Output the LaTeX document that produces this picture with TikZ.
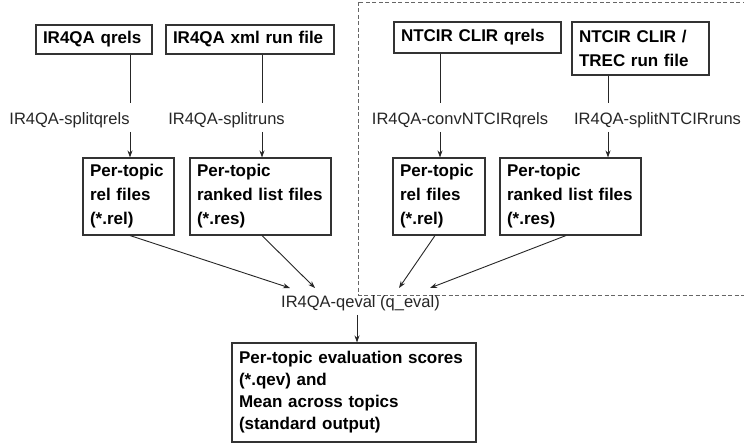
\documentclass[tikz,border=0pt]{standalone}
\usepackage{fontspec}
\setmainfont{Liberation Sans}
\usetikzlibrary{arrows.meta}
\begin{document}
\begin{tikzpicture}[x=1pt,y=-1pt,
  fbox/.style={draw=black!80, line width=1.1pt, font=\fontsize{17}{24}\selectfont\bfseries,
    align=left, inner xsep=7pt, inner ysep=0pt},
  lbl/.style={font=\fontsize{16.5}{19}\selectfont, text=black!85, inner sep=0pt},
  conn/.style={draw=black!85, line width=0.9pt},
  arr/.style={conn, -{Stealth[length=7pt,width=5pt]}},
  region/.style={draw=black!60, line width=0.8pt, dash pattern=on 4pt off 2.5pt}]
\useasboundingbox (0,0) rectangle (744,443);
\fill[white] (0,0) rectangle (744,443);
% dashed region
\draw[region] (358,2) rectangle (750,295);
% top boxes
\node[fbox, text width=102pt, minimum height=29pt] (b1) at (94,39.5) {IR4QA qrels};
\node[fbox, text width=154pt, minimum height=29pt] (b2) at (250,39.5) {IR4QA xml run file};
\node[fbox, text width=153pt, minimum height=31pt] (b3) at (477.5,37.5) {NTCIR CLIR qrels};
\node[fbox, text width=123pt, minimum height=53pt] (b4) at (640.5,48.5) {NTCIR CLIR /\\TREC run file};
% labels
\node[lbl] (l1) at (69.5,120) {IR4QA-splitqrels};
\node[lbl] (l2) at (226.5,120) {IR4QA-splitruns};
\node[lbl] (l3) at (460,120) {IR4QA-convNTCIRqrels};
\node[lbl] (l4) at (657.5,120) {IR4QA-splitNTCIRruns};
% per-topic boxes
\node[fbox, text width=77pt, minimum height=77pt] (b5) at (128.5,196.5) {Per-topic\\rel files\\(*.rel)};
\node[fbox, text width=127pt, minimum height=77pt] (b6) at (260.5,196.5) {Per-topic\\ranked list files\\(*.res)};
\node[fbox, text width=78pt, minimum height=77pt] (b7) at (439,196.5) {Per-topic\\rel files\\(*.rel)};
\node[fbox, text width=127pt, minimum height=77pt] (b8) at (570.5,196.5) {Per-topic\\ranked list files\\(*.res)};
% eval
\node[lbl] (q) at (360.5,303) {IR4QA-qeval (q\_eval)};
\node[fbox, font=\fontsize{17}{22}\selectfont\bfseries, text width=230pt, minimum height=99pt] (b9) at (354,392.5)
  {Per-topic evaluation scores\\(*.qev) and\\Mean across topics\\(standard output)};
% break coordinates
\coordinate (t1) at (130,103); \coordinate (u1) at (130,132);
\coordinate (t2) at (262,103); \coordinate (u2) at (262,132);
\coordinate (t3) at (440,103); \coordinate (u3) at (440,132);
\coordinate (t4) at (608,103); \coordinate (u4) at (608,132);
% vertical connectors
\draw[conn] (b1.south -| t1) -- (t1);
\draw[arr] (u1) -- (b5.north -| u1);
\draw[conn] (b2.south -| t2) -- (t2);
\draw[arr] (u2) -- (b6.north -| u2);
\draw[conn] (b3.south -| t3) -- (t3);
\draw[arr] (u3) -- (b7.north -| u3);
\draw[conn] (b4.south -| t4) -- (t4);
\draw[arr] (u4) -- (b8.north -| u4);
% converging arrows
\coordinate (s5) at (130,235); \coordinate (e5) at (290,288);
\coordinate (s6) at (262,235); \coordinate (e6) at (315,288);
\coordinate (s7) at (435,235); \coordinate (e7) at (399,288);
\coordinate (s8) at (566,235); \coordinate (e8) at (430,288);
\draw[arr] (b5.south -| s5) -- (e5);
\draw[arr] (b6.south -| s6) -- (e6);
\draw[arr] (b7.south -| s7) -- (e7);
\draw[arr] (b8.south -| s8) -- (e8);
\coordinate (qs) at (357,315);
\draw[arr] (qs) -- (b9.north -| qs);
\end{tikzpicture}
\end{document}
